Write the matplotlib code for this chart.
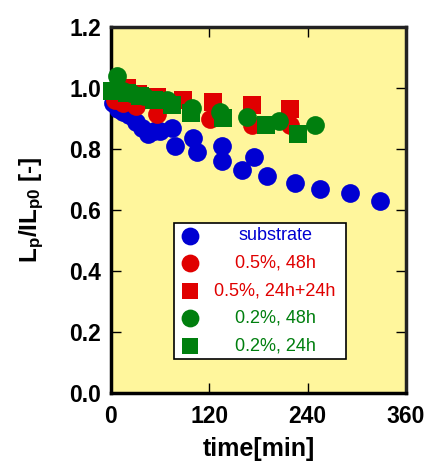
import matplotlib
matplotlib.use("Agg")
import matplotlib.pyplot as plt
from matplotlib.patches import Rectangle

plt.rcParams['font.family'] = ['Liberation Sans', 'DejaVu Sans']
plt.rcParams['mathtext.fontset'] = 'custom'
plt.rcParams['mathtext.rm'] = 'Liberation Sans:bold'
plt.rcParams['mathtext.it'] = 'Liberation Sans:bold'
plt.rcParams['mathtext.bf'] = 'Liberation Sans:bold'

# substrate
sub_t = [3, 8, 15, 22, 30, 38, 45, 52, 60, 75, 78, 100, 105, 135, 135, 160, 175, 190, 225, 255, 292, 328]
sub_v = [0.95, 0.93, 0.92, 0.91, 0.89, 0.87, 0.85, 0.86, 0.86, 0.87, 0.81, 0.835, 0.79, 0.81, 0.76,
         0.73, 0.775, 0.71, 0.69, 0.67, 0.655, 0.63]

# 0.5%, 48h
r48_t = [5, 15, 30, 56, 121, 172, 218]
r48_v = [0.96, 0.95, 0.94, 0.915, 0.897, 0.879, 0.879]

# 0.5%, 24h+24h
r24_t = [5, 19, 33, 56, 88, 124, 172, 218]
r24_v = [0.99, 1.0, 0.98, 0.97, 0.96, 0.953, 0.943, 0.93]

# 0.2%, 48h
g48_t = [7, 15, 25, 40, 68, 99, 133, 166, 205, 249]
g48_v = [1.04, 0.99, 0.985, 0.975, 0.96, 0.935, 0.92, 0.905, 0.893, 0.88]

# 0.2%, 24h
g24_t = [1, 19, 35, 52, 74, 98, 137, 189, 228]
g24_v = [0.99, 0.985, 0.975, 0.961, 0.944, 0.917, 0.90, 0.879, 0.848]

xticks = [0, 120, 240, 360]
yticks = [0.0, 0.2, 0.4, 0.6, 0.8, 1.0, 1.2]

BLUE = '#0000D2'
RED = '#E00000'
GREEN = '#007F0E'

fig = plt.figure(figsize=(4.29, 4.62), dpi=100)
ax = fig.add_axes([0.2587, 0.1494, 0.6877, 0.7922])
ax.set_facecolor('#FFF69C')

series = [
    (sub_t, sub_v, 'o', BLUE, 13.5, 'substrate'),
    (r48_t, r48_v, 'o', RED, 13.5, '0.5%, 48h'),
    (r24_t, r24_v, 's', RED, 12.5, '0.5%, 24h+24h'),
    (g48_t, g48_v, 'o', GREEN, 13.5, '0.2%, 48h'),
    (g24_t, g24_v, 's', GREEN, 12.5, '0.2%, 24h'),
]
for t, v, m, c, ms, lab in series:
    ax.plot(t, v, linestyle='none', marker=m, color=c, markersize=ms,
            markeredgewidth=0, clip_on=False, zorder=3)

ax.set_xlim(0, 360)
ax.set_ylim(0, 1.2)
ax.set_xticks(xticks)
ax.set_yticks(yticks)
ax.set_xticklabels([str(x) for x in xticks])
ax.set_yticklabels([f'{y:.1f}' for y in yticks])
ax.tick_params(direction='in', length=7, width=1, top=True, right=True,
               labelsize=16.5)
ax.tick_params(axis='x', pad=9)
ax.tick_params(axis='y', pad=7)
for lbl in ax.get_xticklabels() + ax.get_yticklabels():
    lbl.set_fontweight('bold')
for s in ax.spines.values():
    s.set_linewidth(2.5)
ax.spines['right'].set_color('#222222')
ax.spines['top'].set_color('#222222')

ax.set_xlabel('time[min]', fontsize=18, fontweight='bold', labelpad=6)
ax.set_ylabel(r'$\mathrm{L_p/IL_{p0}}$ [-]', fontsize=17.5, fontweight='bold', labelpad=17)

# legend box with centred labels
ax.add_patch(Rectangle((0.2136, 0.093), 0.5814, 0.3707, transform=ax.transAxes,
                       facecolor='white', edgecolor='black', linewidth=1.2, zorder=4))
rows = [0.4298, 0.354, 0.2787, 0.204, 0.129]
for (t, v, m, c, ms, lab), yr in zip(series, rows):
    ax.plot([0.268], [yr], transform=ax.transAxes, linestyle='none', marker=m,
            color=c, markersize=ms * 0.95, markeredgewidth=0, zorder=5)
    ax.text(0.556, yr, lab, transform=ax.transAxes, ha='center', va='center',
            color=c, fontsize=13, zorder=5)

fig.savefig('out.png', dpi=100)
